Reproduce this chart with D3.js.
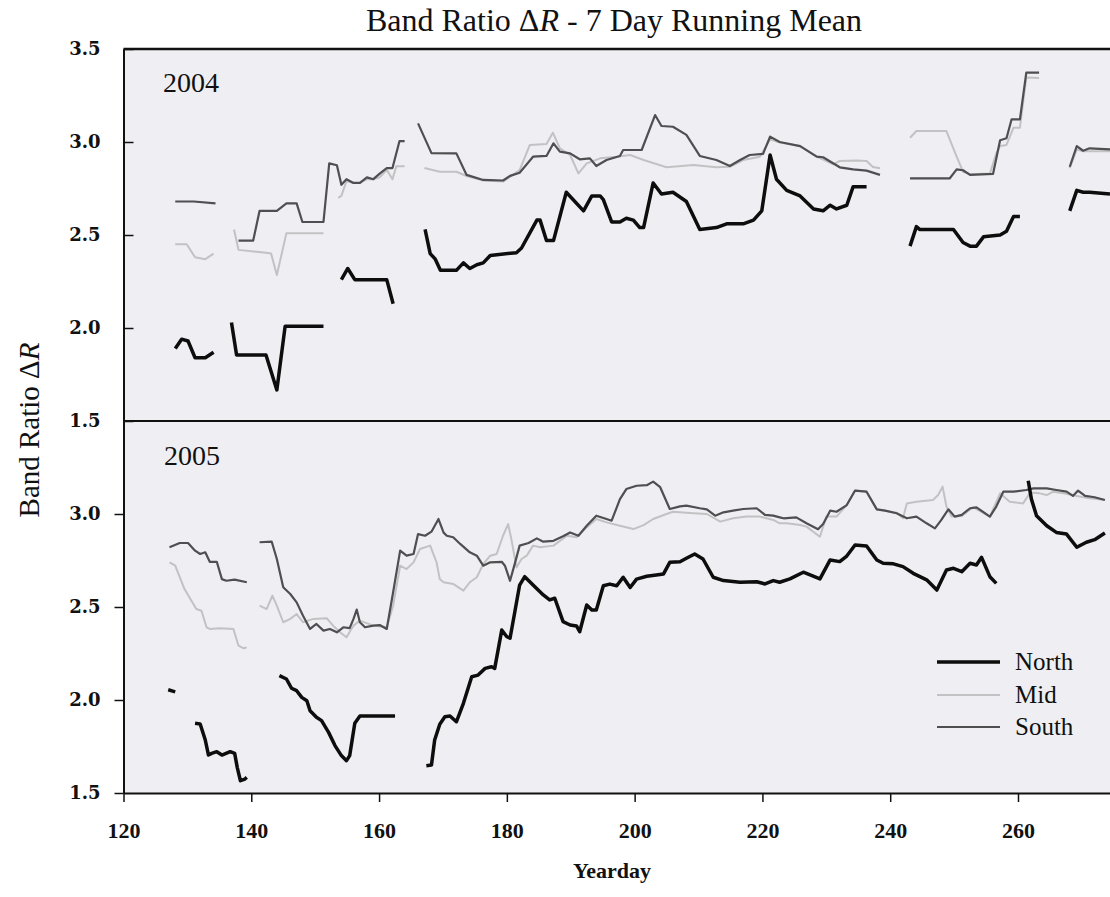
<!DOCTYPE html>
<html><head><meta charset="utf-8">
<script src="https://cdn.jsdelivr.net/npm/d3@7"></script>
<style>
html,body{margin:0;padding:0;background:#fff;}
svg{display:block;}
</style></head>
<body>
<svg id="chart" width="1110" height="897"></svg>
<script>
// ---------------- DATA ----------------
const xTicks = [120, 140, 160, 180, 200, 220, 240, 260];
const yTicksTop = [1.5, 2.0, 2.5, 3.0, 3.5];
const yTicksBottom = [1.5, 2.0, 2.5, 3.0];
const years = ["2004", "2005"];
const seriesNames = ["North", "Mid", "South"];

// each series: list of segments, each segment: [yearday, band ratio]
const north2004 = [
 [[128.1,1.89],[129.1,1.94],[130.1,1.93],[131.2,1.84],[132.8,1.84],[134.1,1.87]],
 [[136.9,2.03],[137.7,1.855],[142.3,1.855],[144.0,1.667],[145.3,2.01],[151.3,2.01]],
 [[154.1,2.26],[155.1,2.32],[156.2,2.26],[161.2,2.26],[162.2,2.13]],
 [[167.2,2.53],[168.0,2.40],[168.8,2.37],[169.6,2.31],[172.1,2.31],[173.2,2.35],[174.2,2.32],[175.3,2.34],[176.3,2.35],[177.4,2.39],[181.5,2.405],[182.3,2.43],[184.7,2.58],[185.2,2.58],[186.2,2.47],[187.3,2.47],[189.3,2.73],[192.0,2.63],[193.3,2.71],[194.6,2.71],[195.1,2.69],[196.4,2.57],[197.7,2.57],[198.7,2.59],[199.8,2.58],[200.8,2.54],[201.4,2.54],[202.9,2.78],[204.2,2.72],[206.0,2.73],[208.1,2.68],[210.2,2.53],[212.8,2.54],[214.4,2.56],[217.0,2.56],[218.6,2.58],[219.9,2.63],[221.2,2.93],[222.2,2.80],[223.8,2.74],[225.9,2.71],[228.0,2.64],[229.5,2.63],[230.6,2.66],[231.6,2.64],[233.2,2.66],[234.2,2.76],[236.3,2.76]],
 [[243.1,2.44],[244.1,2.545],[244.6,2.53],[249.9,2.53],[251.4,2.46],[252.5,2.44],[253.5,2.44],[254.6,2.49],[257.2,2.50],[258.2,2.52],[259.3,2.60],[260.3,2.60]],
 [[268.1,2.63],[269.2,2.74],[270.2,2.73],[271.2,2.73],[274.4,2.72]]
];
const mid2004 = [
 [[128.1,2.45],[129.9,2.45],[131.2,2.38],[132.8,2.37],[134.1,2.40]],
 [[137.3,2.53],[138.0,2.42],[142.3,2.405],[143.1,2.40],[144.0,2.285],[145.5,2.51],[151.3,2.51]],
 [[153.6,2.70],[154.1,2.71],[154.9,2.79],[156.0,2.78],[157.0,2.78],[158.1,2.80],[159.1,2.80],[160.1,2.81],[161.2,2.85],[162.1,2.80],[162.7,2.87],[164.0,2.87]],
 [[167.1,2.86],[169.5,2.84],[172.1,2.84],[173.7,2.817],[176.3,2.793],[179.4,2.787],[182.0,2.849],[183.6,2.984],[186.2,2.989],[187.2,3.05],[188.3,2.966],[189.9,2.93],[191.2,2.831],[192.5,2.885],[194.6,2.912],[197.2,2.921],[199.3,2.93],[201.4,2.903],[205.0,2.864],[209.2,2.876],[212.8,2.864],[214.9,2.867],[217.0,2.903],[219.6,2.921],[221.2,3.014],[222.7,2.997],[225.9,2.978],[228.5,2.921],[231.1,2.88],[232.1,2.898],[234.7,2.90],[236.3,2.898],[237.3,2.866],[238.4,2.859]],
 [[243.1,3.023],[244.1,3.059],[248.8,3.059],[250.4,2.921],[251.4,2.84],[252.5,2.827],[255.6,2.83],[256.6,2.939],[257.2,2.979],[258.2,2.984],[259.3,3.077],[260.3,3.077],[261.3,3.347],[263.3,3.344]],
 [[268.1,2.86],[269.2,2.96],[270.2,2.95],[271.2,2.95],[274.4,2.95]]
];
const south2004 = [
 [[128.1,2.68],[131.0,2.68],[134.4,2.67]],
 [[138.0,2.47],[140.3,2.47],[141.3,2.63],[144.0,2.63],[145.5,2.67],[147.1,2.67],[148.0,2.57],[151.3,2.57],[152.2,2.885],[153.4,2.875],[154.1,2.77],[154.9,2.80],[156.0,2.78],[157.0,2.78],[158.1,2.81],[159.1,2.80],[160.1,2.83],[161.2,2.86],[162.1,2.86],[163.2,3.005],[164.0,3.005]],
 [[166.1,3.10],[168.2,2.94],[172.1,2.939],[173.7,2.823],[176.3,2.796],[179.4,2.793],[180.5,2.818],[182.0,2.835],[184.1,2.921],[186.2,2.925],[187.3,2.993],[188.3,2.948],[189.9,2.939],[191.4,2.907],[193.0,2.912],[194.0,2.871],[195.6,2.903],[197.7,2.925],[198.2,2.957],[201.1,2.957],[203.2,3.145],[204.2,3.086],[206.0,3.082],[208.1,3.038],[210.2,2.925],[212.8,2.903],[214.9,2.871],[216.5,2.903],[218.0,2.93],[220.1,2.936],[221.2,3.029],[222.7,3.0],[225.9,2.978],[228.5,2.921],[229.5,2.918],[232.1,2.864],[234.2,2.853],[236.3,2.846],[238.4,2.823]],
 [[243.1,2.804],[249.3,2.804],[250.4,2.853],[251.4,2.848],[252.5,2.823],[256.1,2.829],[257.2,3.009],[258.2,3.02],[259.0,3.122],[260.3,3.122],[261.3,3.373],[263.3,3.373]],
 [[268.1,2.867],[269.2,2.978],[270.2,2.953],[271.2,2.966],[274.4,2.96]]
];

const north2005 = [
 [[127.0,2.055],[128.1,2.044]],
 [[131.2,1.875],[132.0,1.871],[132.8,1.785],[133.3,1.704],[133.8,1.713],[134.6,1.722],[135.4,1.704],[136.7,1.722],[137.4,1.713],[137.8,1.638],[138.3,1.566],[139.0,1.575],[139.3,1.584]],
 [[144.4,2.131],[145.5,2.113],[146.3,2.063],[147.1,2.05],[147.9,2.014],[148.7,1.996],[149.2,1.942],[150.2,1.907],[151.0,1.889],[152.1,1.826],[153.1,1.755],[154.1,1.701],[154.9,1.674],[155.4,1.701],[156.2,1.875],[157.0,1.914],[162.5,1.914]],
 [[167.4,1.647],[168.2,1.65],[168.7,1.785],[169.5,1.87],[170.3,1.91],[171.1,1.914],[172.1,1.883],[173.2,1.982],[174.5,2.125],[175.5,2.134],[176.6,2.17],[177.6,2.179],[178.1,2.17],[179.2,2.376],[180.0,2.34],[180.5,2.332],[181.3,2.484],[182.0,2.618],[182.8,2.663],[184.1,2.618],[185.7,2.565],[186.7,2.538],[187.5,2.547],[188.8,2.421],[189.9,2.403],[190.9,2.398],[191.4,2.367],[192.5,2.511],[193.3,2.484],[194.0,2.484],[195.1,2.614],[196.1,2.623],[197.2,2.614],[198.2,2.66],[199.3,2.605],[200.3,2.65],[201.9,2.665],[203.4,2.672],[204.5,2.677],[205.5,2.74],[207.1,2.743],[208.1,2.762],[209.4,2.785],[210.7,2.758],[212.3,2.66],[213.9,2.642],[216.5,2.633],[219.1,2.636],[220.4,2.624],[221.7,2.642],[222.7,2.633],[224.3,2.651],[226.4,2.687],[229.0,2.651],[230.6,2.753],[232.1,2.744],[233.2,2.774],[234.5,2.833],[236.3,2.828],[237.9,2.753],[238.9,2.735],[240.5,2.732],[242.0,2.717],[243.6,2.681],[245.7,2.646],[247.3,2.591],[248.8,2.699],[249.9,2.708],[251.2,2.69],[252.5,2.735],[253.5,2.726],[254.3,2.767],[255.6,2.663],[256.6,2.627]],
 [[261.6,3.179],[262.1,3.08],[262.9,2.991],[264.5,2.937],[266.0,2.901],[267.6,2.892],[269.2,2.821],[270.7,2.848],[272.0,2.862],[273.6,2.898]]
];
const mid2005 = [
 [[127.2,2.74],[128.1,2.722],[129.5,2.60],[131.4,2.489],[132.2,2.48],[133.0,2.391],[133.5,2.382],[135.1,2.386],[137.2,2.382],[138.0,2.292],[138.8,2.278],[139.3,2.283]],
 [[141.3,2.507],[142.4,2.489],[143.3,2.561],[144.0,2.507],[145.0,2.418],[146.1,2.436],[147.1,2.462],[148.1,2.418],[149.7,2.436],[151.8,2.44],[152.8,2.4],[153.9,2.364],[154.9,2.337],[156.0,2.4],[157.0,2.427],[159.1,2.4],[161.2,2.391],[162.2,2.507],[163.3,2.722],[164.3,2.704],[165.4,2.74],[166.4,2.812],[168.0,2.83],[169.0,2.74],[169.5,2.65],[170.1,2.633],[171.6,2.624],[173.2,2.588],[174.2,2.633],[175.3,2.66],[176.3,2.731],[177.4,2.776],[178.4,2.785],[179.4,2.883],[180.2,2.946],[180.7,2.866],[181.5,2.713],[182.3,2.758],[183.1,2.776],[184.1,2.83],[185.2,2.821],[187.3,2.83],[189.4,2.883],[190.9,2.875],[192.5,2.928],[194.0,2.973],[195.6,2.955],[197.7,2.937],[199.8,2.919],[201.4,2.94],[202.9,2.973],[205.0,3.0],[206.0,3.012],[209.2,3.004],[211.3,3.0],[213.4,2.959],[215.4,2.977],[217.5,2.986],[219.6,2.986],[221.7,2.968],[222.7,2.95],[223.8,2.95],[225.9,2.941],[226.9,2.932],[229.0,2.878],[230.0,2.986],[231.6,2.986],[233.2,3.048],[234.5,3.126],[236.3,3.12],[237.9,3.025],[241.0,3.007],[242.0,2.977],[242.6,3.057],[244.1,3.066],[246.7,3.075],[247.5,3.102],[248.2,3.147],[248.8,3.04],[249.6,2.986],[251.2,2.989],[253.0,3.036],[255.6,2.986],[257.2,3.111],[258.7,3.066],[260.8,3.057],[261.9,3.115],[263.4,3.111],[264.5,3.102],[265.5,3.12],[267.1,3.111],[269.2,3.097],[271.2,3.084],[273.6,3.075]]
];
const south2005 = [
 [[127.2,2.821],[128.8,2.844],[130.1,2.844],[131.2,2.803],[132.0,2.785],[132.8,2.794],[133.5,2.743],[134.6,2.743],[135.4,2.65],[136.1,2.641],[137.4,2.647],[139.3,2.633]],
 [[141.3,2.848],[143.2,2.851],[144.0,2.758],[145.0,2.606],[146.1,2.57],[147.1,2.525],[148.1,2.453],[149.2,2.382],[150.2,2.409],[151.3,2.373],[152.3,2.382],[153.4,2.364],[154.4,2.391],[155.4,2.386],[156.0,2.436],[156.5,2.486],[157.0,2.418],[157.8,2.391],[159.1,2.4],[160.1,2.403],[161.2,2.382],[162.2,2.579],[163.3,2.803],[164.3,2.776],[165.4,2.785],[166.1,2.892],[167.2,2.883],[168.2,2.905],[169.3,2.973],[170.1,2.90],[170.6,2.883],[171.6,2.875],[172.7,2.839],[174.2,2.794],[175.3,2.776],[176.3,2.722],[177.4,2.74],[179.2,2.743],[179.7,2.722],[180.5,2.641],[181.3,2.74],[182.0,2.83],[183.4,2.844],[184.7,2.869],[185.7,2.851],[187.3,2.856],[188.8,2.88],[189.9,2.901],[191.2,2.883],[192.5,2.937],[194.0,2.991],[195.6,2.973],[196.4,2.964],[197.7,3.08],[198.7,3.134],[200.3,3.152],[201.9,3.155],[202.9,3.174],[204.0,3.144],[205.5,3.027],[207.1,3.041],[208.1,3.045],[210.2,3.031],[211.3,3.025],[212.6,2.991],[213.9,3.009],[215.4,3.018],[217.0,3.027],[219.1,3.031],[220.4,2.995],[221.7,2.991],[222.7,2.982],[223.3,2.977],[225.3,2.982],[226.9,2.95],[228.7,2.918],[229.5,2.946],[230.6,3.018],[231.6,3.012],[233.2,3.048],[234.5,3.126],[236.3,3.12],[237.9,3.025],[239.2,3.018],[241.0,3.004],[242.6,2.977],[244.1,2.986],[245.7,2.95],[247.0,2.923],[248.0,2.968],[249.1,3.025],[250.1,2.986],[251.2,2.995],[252.5,3.031],[253.5,3.036],[255.6,2.986],[256.6,3.04],[257.7,3.12],[259.3,3.12],[261.3,3.129],[262.4,3.138],[264.5,3.138],[266.0,3.129],[267.6,3.12],[268.6,3.097],[269.4,3.126],[270.5,3.097],[272.0,3.09],[273.6,3.075]]
];

// ---------------- LAYOUT ----------------
const svg = d3.select("#chart");
const left = 123.5, right = 1110;
const topY = 49, midY = 421, botY = 793;

const x = d3.scaleLinear().domain([120, 274.4]).range([left, right]);
const yTop = d3.scaleLinear().domain([1.5, 3.5]).range([midY, topY]);
const yBot = d3.scaleLinear().domain([1.5, 3.5]).range([botY, midY]);

const styles = {
  North: {stroke: "#0d0d0d", width: 3.5},
  Mid:   {stroke: "#c2c2c4", width: 2.0},
  South: {stroke: "#4f4f52", width: 2.2}
};

svg.append("rect").attr("x", left).attr("y", topY).attr("width", right - left).attr("height", botY - topY)
  .attr("fill", "#efeff3");

function drawPanel(yScale, data) {
  const line = d3.line().x(d => x(d[0])).y(d => yScale(d[1]));
  const g = svg.append("g");
  [["Mid", data.Mid], ["South", data.South], ["North", data.North]].forEach(([name, segs]) => {
    g.selectAll(null).data(segs).enter().append("path")
      .attr("d", line)
      .attr("fill", "none")
      .attr("stroke", styles[name].stroke)
      .attr("stroke-width", styles[name].width)
      .attr("stroke-linejoin", "round")
      .attr("stroke-linecap", "butt");
  });
}

drawPanel(yTop, {North: north2004, Mid: mid2004, South: south2004});
drawPanel(yBot, {North: north2005, Mid: mid2005, South: south2005});

svg.append("line").attr("x1", left).attr("x2", right).attr("y1", topY).attr("y2", topY)
  .attr("stroke", "#111").attr("stroke-width", 2.5);
svg.append("line").attr("x1", left).attr("x2", right).attr("y1", midY).attr("y2", midY)
  .attr("stroke", "#111").attr("stroke-width", 2);

const serif = "'Liberation Serif', 'Times New Roman', serif";
const ySerif = "'DejaVu Serif', serif";

const fmt = d3.format(".1f");
const gyTop = svg.append("g").attr("transform", `translate(${left},0)`)
  .call(d3.axisLeft(yTop).tickValues(yTicksTop).tickFormat(fmt).tickSizeInner(-10).tickSizeOuter(0).tickPadding(23));
const gyBot = svg.append("g").attr("transform", `translate(${left},0)`)
  .call(d3.axisLeft(yBot).tickValues(yTicksBottom).tickFormat(fmt).tickSizeInner(9).tickSizeOuter(0).tickPadding(14));
[gyTop, gyBot].forEach(g => {
  g.select(".domain").attr("stroke", "#111").attr("stroke-width", 2);
  g.selectAll(".tick line").attr("stroke", "#111").attr("stroke-width", 1.5);
  g.selectAll(".tick text").attr("font-family", ySerif).attr("font-size", 18).attr("font-weight", "bold").attr("fill", "#111");
});

const gx = svg.append("g").attr("transform", `translate(0,${botY})`)
  .call(d3.axisBottom(x).tickValues(xTicks).tickSizeInner(9).tickSizeOuter(0).tickPadding(20));
gx.select(".domain").attr("stroke", "#111").attr("stroke-width", 2);
gx.selectAll(".tick line").attr("stroke", "#111").attr("stroke-width", 1.5);
gx.selectAll(".tick text").attr("font-family", serif).attr("font-size", 22).attr("font-weight", "bold").attr("fill", "#111");

svg.append("text").attr("x", 163).attr("y", 92).attr("font-family", serif).attr("font-size", 28).attr("fill", "#111").text(years[0]);
svg.append("text").attr("x", 164).attr("y", 465).attr("font-family", serif).attr("font-size", 28).attr("fill", "#111").text(years[1]);

const title = svg.append("text").attr("x", 614).attr("y", 31).attr("text-anchor", "middle")
  .attr("font-family", serif).attr("font-size", 32).attr("fill", "#111");
title.append("tspan").text("Band Ratio \u0394");
title.append("tspan").attr("font-style", "italic").text("R");
title.append("tspan").text(" - 7 Day Running Mean");

const ylab = svg.append("text").attr("transform", "translate(39,430) rotate(-90)").attr("text-anchor", "middle")
  .attr("font-family", serif).attr("font-size", 29).attr("fill", "#111");
ylab.append("tspan").text("Band Ratio \u0394");
ylab.append("tspan").attr("font-style", "italic").text("R");

svg.append("text").attr("x", 612).attr("y", 878).attr("text-anchor", "middle")
  .attr("font-family", serif).attr("font-size", 22).attr("font-weight", "bold").attr("fill", "#111").text("Yearday");

const legY = [662, 695, 727];
seriesNames.forEach((name, i) => {
  svg.append("line").attr("x1", 937).attr("x2", 1000).attr("y1", legY[i]).attr("y2", legY[i])
    .attr("stroke", styles[name].stroke).attr("stroke-width", styles[name].width);
  svg.append("text").attr("x", 1015).attr("y", legY[i] + 8).attr("font-family", serif).attr("font-size", 25)
    .attr("fill", "#111").text(name);
});
</script>
</body></html>
